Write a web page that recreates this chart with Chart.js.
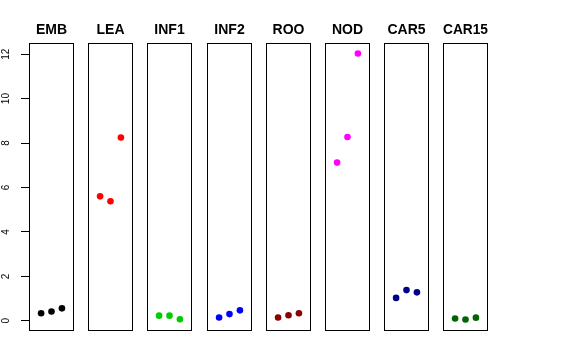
<!DOCTYPE html>
<html>
<head>
<meta charset="utf-8">
<script src="https://cdn.jsdelivr.net/npm/chart.js@4/dist/chart.umd.min.js"></script>
<style>
  html, body { margin: 0; padding: 0; background: #fff; }
  #wrap { position: relative; width: 576px; height: 360px; overflow: hidden; }
  canvas { position: absolute; top: 0; }
</style>
</head>
<body>
<div id="wrap"></div>
<script>
// ---- data ----
const categories = ['EMB', 'LEA', 'INF1', 'INF2', 'ROO', 'NOD', 'CAR5', 'CAR15'];
const replicates = [1, 2, 3];
const EMB   = [0.34, 0.42, 0.56];
const LEA   = [5.60, 5.38, 8.25];
const INF1  = [0.23, 0.23, 0.07];
const INF2  = [0.15, 0.30, 0.47];
const ROO   = [0.15, 0.25, 0.34];
const NOD   = [7.12, 8.27, 12.03];
const CAR5  = [1.03, 1.38, 1.28];
const CAR15 = [0.10, 0.06, 0.14];
const seriesValues = [EMB, LEA, INF1, INF2, ROO, NOD, CAR5, CAR15];
const pointColors = ['#000000', '#FF0000', '#00CD00', '#0000FF', '#8B0000', '#FF00FF', '#00008B', '#006400'];
const yTickValues = [0, 2, 4, 6, 8, 10, 12];

// ---- layout ----
const H = 360;
const yAxisWidth = 29;
const panelLefts = [29, 88, 147, 207, 266, 325, 384, 443];
const panelWidth = 45;
const plotTop = 43.3, plotBottom = 331;
const yRange = { min: -0.46, max: 12.49 };
const xRange = { min: -0.16, max: 4.16 };
const font = "'Liberation Sans', Arial, Helvetica, sans-serif";

const boxPlugin = {
  id: 'panelBox',
  afterDraw(chart) {
    const a = chart.chartArea, ctx = chart.ctx;
    ctx.save();
    ctx.strokeStyle = '#000';
    ctx.lineWidth = 1;
    ctx.strokeRect(Math.round(a.left) + 0.5, Math.round(a.top) + 0.5,
                   Math.round(a.right - a.left) - 1, Math.round(a.bottom - a.top) - 1);
    ctx.restore();
  }
};

const wrap = document.getElementById('wrap');
categories.forEach((cat, i) => {
  const first = i === 0;
  const cv = document.createElement('canvas');
  const left = first ? 0 : panelLefts[i];
  const width = first ? panelLefts[0] + panelWidth : panelWidth;
  cv.width = width; cv.height = H;
  cv.style.left = left + 'px';
  cv.style.width = width + 'px'; cv.style.height = H + 'px';
  wrap.appendChild(cv);

  const titleSize = 14, titleLH = 1.2;
  const padTop = 21.6;
  const padBottom = plotTop - padTop - titleSize * titleLH;

  new Chart(cv, {
    type: 'scatter',
    data: {
      datasets: [{
        label: cat,
        data: replicates.map((r, k) => ({ x: r, y: seriesValues[i][k] })),
        backgroundColor: pointColors[i],
        borderColor: pointColors[i],
        borderWidth: 0,
        pointRadius: 3.3,
        pointHoverRadius: 3.3
      }]
    },
    options: {
      responsive: false,
      animation: false,
      devicePixelRatio: 1,
      layout: { autoPadding: false, padding: { left: 0, right: 0, top: 0, bottom: H - plotBottom } },
      plugins: {
        legend: { display: false },
        tooltip: { enabled: false },
        title: {
          display: true,
          text: cat,
          fullSize: false,
          color: '#000',
          font: { family: font, size: titleSize, weight: 'bold', lineHeight: titleLH },
          padding: { top: padTop, bottom: padBottom }
        }
      },
      scales: {
        x: {
          type: 'linear', display: false,
          min: xRange.min, max: xRange.max
        },
        y: {
          type: 'linear',
          display: first,
          min: yRange.min, max: yRange.max,
          afterBuildTicks(scale) { scale.ticks = yTickValues.map(v => ({ value: v })); },
          afterFit(scale) { scale.width = first ? yAxisWidth : 0; },
          border: { display: false },
          grid: { drawOnChartArea: false, drawTicks: true, tickLength: 8, color: '#000', lineWidth: 1 },
          ticks: {
            minRotation: 90, maxRotation: 90,
            crossAlign: 'center',
            padding: 9,
            color: '#000',
            font: { family: font, size: 10 },
            callback: v => String(v)
          }
        }
      }
    },
    plugins: [boxPlugin]
  });
});
</script>
</body>
</html>
